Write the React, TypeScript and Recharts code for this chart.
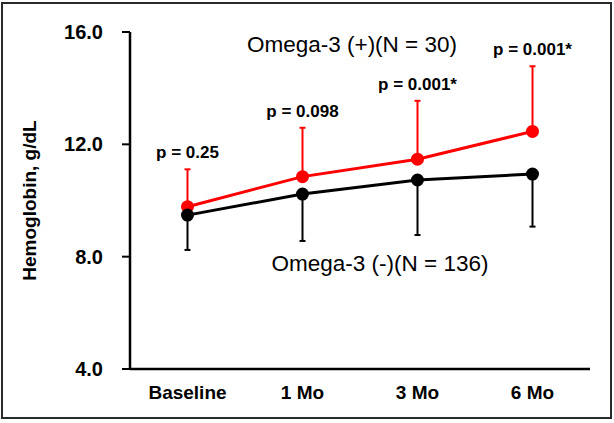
import React from 'react';
import {LineChart, Line, XAxis, YAxis, ErrorBar, LabelList} from 'recharts';

const timepoints = ['Baseline', '1 Mo', '3 Mo', '6 Mo'];
const omegaPlus = [9.78, 10.85, 11.47, 12.46];   // red, N = 30
const omegaPlusSd = [1.33, 1.74, 2.08, 2.32];
const omegaMinus = [9.48, 10.23, 10.73, 10.94];  // black, N = 136
const omegaMinusSd = [1.24, 1.67, 1.96, 1.87];
const pValues = ['p = 0.25', 'p = 0.098', 'p = 0.001*', 'p = 0.001*'];
const yTicks = [4, 8, 12, 16];

const data = timepoints.map((t, i) => ({
    time: t,
    plus: omegaPlus[i],
    plusErr: [0, omegaPlusSd[i]],
    plusTop: omegaPlus[i] + omegaPlusSd[i],
    minus: omegaMinus[i],
    minusErr: [omegaMinusSd[i], 0],
    p: pValues[i],
}));

const font = '"Liberation Sans", Arial, sans-serif';

const App = () => {
    return (
        <div style={{position: 'relative', width: 614, height: 423, background: '#fff', fontFamily: font}}>
            <style>{'body{margin:0}'}</style>
            <div style={{position: 'absolute', left: 1, top: 2, width: 611, height: 417,
                border: '2px solid #2a2a2a', boxSizing: 'border-box'}}/>
            <div style={{position: 'absolute', left: 0, top: 0}}>
                <LineChart width={614} height={423} data={data}
                           margin={{top: 32, right: 24, bottom: 24, left: 0}}>
                    <XAxis dataKey="time"
                           padding={{left: 57.5, right: 57.5}}
                           axisLine={{stroke: '#000', strokeWidth: 2.5}}
                           tickLine={false}
                           tickSize={8}
                           tickMargin={9}
                           height={30}
                           tick={{fill: '#000', fontSize: 19, fontWeight: 'bold', fontFamily: font}}/>
                    <YAxis domain={[4, 16]} ticks={yTicks} width={130}
                           tickFormatter={(v) => v.toFixed(1)}
                           axisLine={{stroke: '#000', strokeWidth: 2.5}}
                           tickLine={{stroke: '#000', strokeWidth: 2}}
                           tickSize={8}
                           tickMargin={19}
                           tick={{fill: '#000', fontSize: 20, fontWeight: 'bold', fontFamily: font}}
                           label={{value: 'Hemoglobin, g/dL', angle: -90, position: 'center', dx: -36,
                               style: {fill: '#000', fontSize: 19, fontWeight: 'bold', fontFamily: font}}}/>
                    {/* invisible line at the top of the red error bars, only carries the p labels */}
                    <Line dataKey="plusTop" stroke="none" dot={false} activeDot={false}
                          isAnimationActive={false} legendType="none">
                        <LabelList dataKey="p" position="top" offset={11}
                                   style={{fill: '#000', fontSize: 17, fontWeight: 'bold', fontFamily: font}}/>
                    </Line>
                    <Line dataKey="plus" stroke="#ff0000" strokeWidth={3}
                          dot={{r: 5, fill: '#ff0000', stroke: '#ff0000'}} activeDot={false}
                          isAnimationActive={false}>
                        <ErrorBar dataKey="plusErr" stroke="#ff0000" strokeWidth={2} width={3}
                                  isAnimationActive={false}/>
                    </Line>
                    <Line dataKey="minus" stroke="#000" strokeWidth={3}
                          dot={{r: 5, fill: '#000', stroke: '#000'}} activeDot={false}
                          isAnimationActive={false}>
                        <ErrorBar dataKey="minusErr" stroke="#000" strokeWidth={2} width={3}
                                  isAnimationActive={false}/>
                    </Line>
                    <text x={352} y={52} textAnchor="middle" fontSize={22.5} fontFamily={font} fill="#000">
                        Omega-3 (+)(N = 30)
                    </text>
                    <text x={380} y={271} textAnchor="middle" fontSize={22.5} fontFamily={font} fill="#000">
                        Omega-3 (-)(N = 136)
                    </text>
                </LineChart>
            </div>
        </div>
    );
}

export default App
